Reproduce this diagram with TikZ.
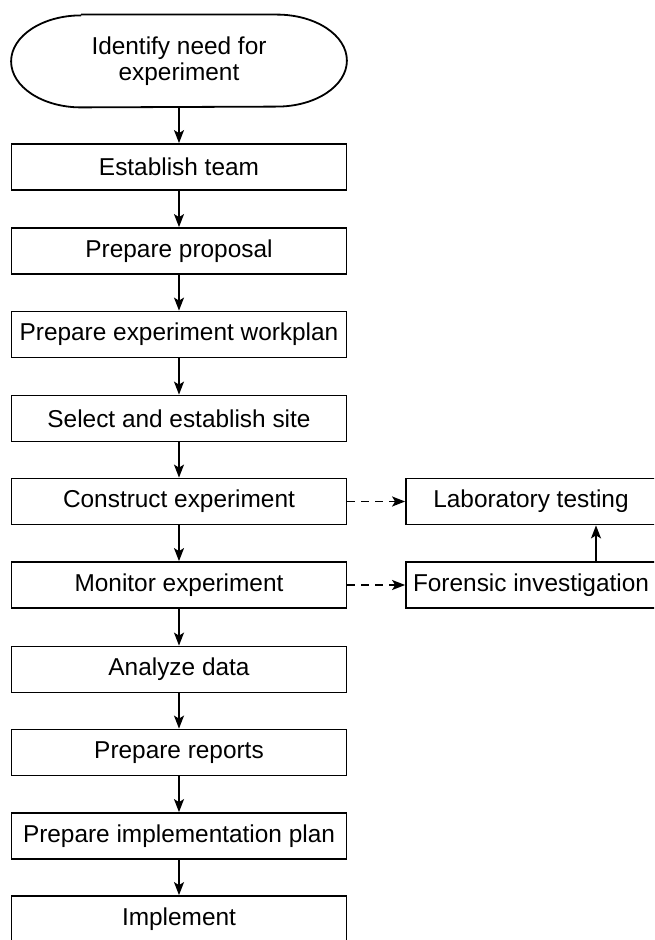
\documentclass[tikz,border=0pt]{standalone}
\usepackage{fontspec}
\setmainfont{Liberation Sans}
\usetikzlibrary{arrows.meta, positioning}

\begin{document}
\begin{tikzpicture}[
    font=\fontsize{12.2}{13.2}\selectfont,
    x=0.5pt,
    y=0.5pt,
    stepbox/.style={draw, line width=0.9pt, align=center, inner sep=0pt, minimum width=167.5pt, minimum height=23pt},
    sidebox/.style={draw, line width=0.9pt, align=center, inner sep=0pt, minimum width=125pt, minimum height=23pt},
    terminal/.style={align=center, inner sep=0pt, minimum width=167.5pt, minimum height=46pt},
    arrow/.style={-{Stealth[length=6.5pt, width=5pt, inset=1.5pt]}, line width=0.75pt},
    dasharrow/.style={arrow, line width=0.85pt, dash pattern=on 4pt off 3pt}
]
\useasboundingbox (0,0) rectangle (654,-940);
\clip (0,0) rectangle (654,-940);
% main column
\node[terminal] (need) at (179,-61) {Identify need for\\experiment};
\draw[line width=0.9pt] ([xshift=35pt]need.north west) -- ([xshift=-35pt]need.north east)
    arc[start angle=90, end angle=-90, x radius=70, y radius=46]
    -- ([xshift=35pt]need.south west)
    arc[start angle=270, end angle=90, x radius=70, y radius=46];
\node[stepbox] (team) at (179,-167) {Establish team};
\node[stepbox] (proposal) at (179,-251) {Prepare proposal};
\node[stepbox] (workplan) at (179,-334.5) {Prepare experiment workplan};
\node[stepbox] (site) at (179,-418.5) {Select and establish site};
\node[stepbox] (construct) at (179,-501.5) {Construct experiment};
\node[stepbox] (monitor) at (179,-585) {Monitor experiment};
\node[stepbox] (analyze) at (179,-669.5) {Analyze data};
\node[stepbox] (reports) at (179,-752.5) {Prepare reports};
\node[stepbox] (implplan) at (179,-836) {Prepare implementation plan};
\node[stepbox] (implement) at (179,-919) {Implement};
% side branch
\node[sidebox] (lab) at (531,-501.5) {Laboratory testing};
\node[sidebox] (forensic) at (531,-585) {Forensic investigation};
\draw[arrow] (need) -- (team);
\draw[arrow] (team) -- (proposal);
\draw[arrow] (proposal) -- (workplan);
\draw[arrow] (workplan) -- (site);
\draw[arrow] (site) -- (construct);
\draw[arrow] (construct) -- (monitor);
\draw[arrow] (monitor) -- (analyze);
\draw[arrow] (analyze) -- (reports);
\draw[arrow] (reports) -- (implplan);
\draw[arrow] (implplan) -- (implement);
\draw[dasharrow] (construct) -- (lab);
\draw[dasharrow] (monitor) -- (forensic);
\draw[arrow] ([xshift=32.5pt]forensic.north) -- ([xshift=32.5pt]lab.south);
\end{tikzpicture}
\end{document}
